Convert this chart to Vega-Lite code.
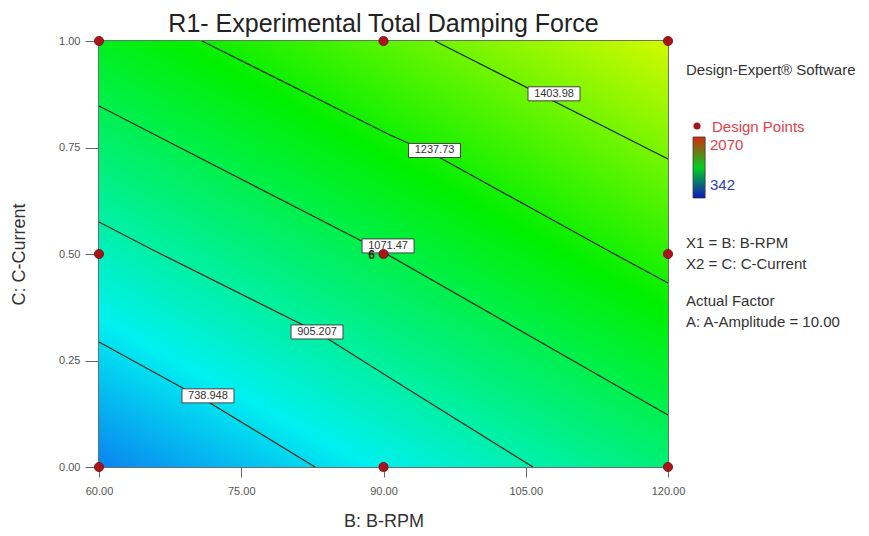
{
  "$schema": "https://vega.github.io/schema/vega-lite/v6.json",
  "width": 569,
  "height": 426,
  "autosize": {"type": "none"},
  "padding": {"left": 99, "top": 41, "right": 201, "bottom": 69},
  "background": "white",
  "title": {
    "text": "R1- Experimental Total Damping Force",
    "font": "Liberation Sans",
    "fontSize": 25,
    "fontWeight": "normal",
    "color": "#222222",
    "anchor": "middle",
    "frame": "group",
    "baseline": "alphabetic",
    "offset": -22
  },
  "config": {
    "view": {"stroke": "#34453a", "strokeWidth": 1.5},
    "axis": {
      "labelFont": "Liberation Sans",
      "labelFontSize": 11,
      "labelColor": "#555555",
      "labelFlush": false,
      "labelOverlap": false,
      "tickColor": "#666666",
      "grid": false,
      "domain": false,
      "titleFont": "Liberation Sans",
      "titleFontSize": 18,
      "titleFontWeight": "normal",
      "titleColor": "#333333"
    }
  },
  "datasets": {
    "surface": [
      {"B": 60, "B2": 120, "C": 0, "C2": 1}
    ],
    "colorbar": [
      {"B": 122.64, "B2": 123.91, "C": 0.6315, "C2": 0.7746}
    ],
    "contours": [
      {"level": "738.948", "B": 60, "C": 0.2934},
      {"level": "738.948", "B": 71.70, "C": 0.1502},
      {"level": "738.948", "B": 82.78, "C": 0},
      {"level": "905.207", "B": 60, "C": 0.5751},
      {"level": "905.207", "B": 65.69, "C": 0.5094},
      {"level": "905.207", "B": 82.99, "C": 0.3169},
      {"level": "905.207", "B": 90.69, "C": 0.2089},
      {"level": "905.207", "B": 105.76, "C": 0},
      {"level": "1071.47", "B": 60, "C": 0.8474},
      {"level": "1071.47", "B": 89.95, "C": 0.5047},
      {"level": "1071.47", "B": 120, "C": 0.1221},
      {"level": "1237.73", "B": 70.86, "C": 1.0},
      {"level": "1237.73", "B": 90.69, "C": 0.7793},
      {"level": "1237.73", "B": 95.43, "C": 0.7324},
      {"level": "1237.73", "B": 113.57, "C": 0.5094},
      {"level": "1237.73", "B": 120, "C": 0.4319},
      {"level": "1403.98", "B": 95.43, "C": 1.0},
      {"level": "1403.98", "B": 120, "C": 0.7230}
    ],
    "labels": [
      {"label": "1403.98", "B": 107.98, "C": 0.876},
      {"label": "1237.73", "B": 95.38, "C": 0.743},
      {"label": "1071.47", "B": 90.48, "C": 0.519},
      {"label": "905.207", "B": 82.99, "C": 0.317},
      {"label": "738.948", "B": 71.49, "C": 0.167}
    ],
    "design": [
      {"B": 60, "C": 0}, {"B": 90, "C": 0}, {"B": 120, "C": 0},
      {"B": 60, "C": 0.5}, {"B": 90, "C": 0.5}, {"B": 120, "C": 0.5},
      {"B": 60, "C": 1}, {"B": 90, "C": 1}, {"B": 120, "C": 1}
    ],
    "legendDot": [
      {"item": "Design Points", "B": 123.06, "C": 0.8005}
    ],
    "notes": [
      {"note": "Design-Expert® Software", "B": 121.9, "C": 0.9319, "kind": "info"},
      {"note": "Design Points", "B": 124.64, "C": 0.7981, "kind": "red"},
      {"note": "2070", "B": 124.43, "C": 0.7559, "kind": "red"},
      {"note": "342", "B": 124.43, "C": 0.6620, "kind": "blue"},
      {"note": "X1 = B: B-RPM", "B": 121.9, "C": 0.5258, "kind": "info"},
      {"note": "X2 = C: C-Current", "B": 121.9, "C": 0.4765, "kind": "info"},
      {"note": "Actual Factor", "B": 121.9, "C": 0.3897, "kind": "info"},
      {"note": "A: A-Amplitude = 10.00", "B": 121.9, "C": 0.3404, "kind": "info"}
    ]
  },
  "encoding": {
    "x": {
      "field": "B",
      "type": "quantitative",
      "scale": {"domain": [60, 120], "nice": false, "zero": false},
      "axis": {
        "title": "B: B-RPM",
        "values": [60, 75, 90, 105, 120],
        "format": ".2f",
        "tickSize": 10,
        "labelPadding": 8,
        "titlePadding": 16
      }
    },
    "y": {
      "field": "C",
      "type": "quantitative",
      "scale": {"domain": [0, 1], "nice": false, "zero": false},
      "axis": {
        "title": "C: C-Current",
        "values": [0, 0.25, 0.5, 0.75, 1],
        "format": ".2f",
        "tickSize": 14,
        "labelPadding": 5,
        "titlePadding": 30
      }
    }
  },
  "layer": [
    {
      "data": {"name": "surface"},
      "mark": {
        "type": "rect",
        "fill": {
          "gradient": "linear",
          "x1": 0, "y1": 1, "x2": 0.8211, "y2": -0.13,
          "stops": [
            {"offset": 0, "color": "#0a84f0"},
            {"offset": 0.2017, "color": "#00f0f0"},
            {"offset": 0.6345, "color": "#00f000"},
            {"offset": 1, "color": "#d2fa00"}
          ]
        }
      },
      "encoding": {
        "x2": {"field": "B2"},
        "y2": {"field": "C2"}
      }
    },
    {
      "data": {"name": "contours"},
      "mark": {"type": "line", "color": "#1c2a1c", "strokeWidth": 1.3},
      "encoding": {"detail": {"field": "level"}}
    },
    {
      "data": {"name": "labels"},
      "mark": {
        "type": "point",
        "shape": "M-1,-0.27L1,-0.27L1,0.27L-1,0.27Z",
        "size": 2704,
        "filled": true,
        "fill": "white",
        "stroke": "#444444",
        "strokeWidth": 1,
        "opacity": 1
      },
      "encoding": {}
    },
    {
      "data": {"name": "labels"},
      "mark": {"type": "text", "font": "Liberation Sans", "fontSize": 11, "color": "#333333", "align": "center", "baseline": "middle"},
      "encoding": {"text": {"field": "label"}}
    },
    {
      "data": {"name": "design"},
      "mark": {"type": "point", "filled": true, "size": 85, "color": "#a8141a", "opacity": 1, "stroke": "#7a0a0a", "strokeWidth": 0.8}
    },
    {
      "data": {"values": [{"count": "6", "B": 88.75, "C": 0.497}]},
      "mark": {"type": "text", "font": "Liberation Sans", "fontSize": 12, "fontWeight": "bold", "color": "#222222", "align": "center", "baseline": "middle"},
      "encoding": {"text": {"field": "count"}}
    },
    {
      "data": {"name": "notes"},
      "mark": {"type": "text", "font": "Liberation Sans", "fontSize": 15, "align": "left", "baseline": "middle"},
      "encoding": {
        "text": {"field": "note"},
        "color": {
          "field": "kind",
          "type": "nominal",
          "scale": {"domain": ["info", "red", "blue"], "range": ["#333333", "#e0404a", "#2a3cb4"]},
          "legend": null
        }
      }
    },
    {
      "data": {"name": "legendDot"},
      "mark": {"type": "point", "filled": true, "size": 50, "color": "#a8141a", "opacity": 1}
    },
    {
      "data": {"name": "colorbar"},
      "mark": {
        "type": "rect",
        "stroke": "#333333",
        "strokeWidth": 0.8,
        "fill": {
          "gradient": "linear",
          "x1": 0, "y1": 0, "x2": 0, "y2": 1,
          "stops": [
            {"offset": 0, "color": "#d82a0a"},
            {"offset": 0.5, "color": "#00d020"},
            {"offset": 1, "color": "#1018c0"}
          ]
        }
      },
      "encoding": {
        "x2": {"field": "B2"},
        "y2": {"field": "C2"}
      }
    }
  ]
}
